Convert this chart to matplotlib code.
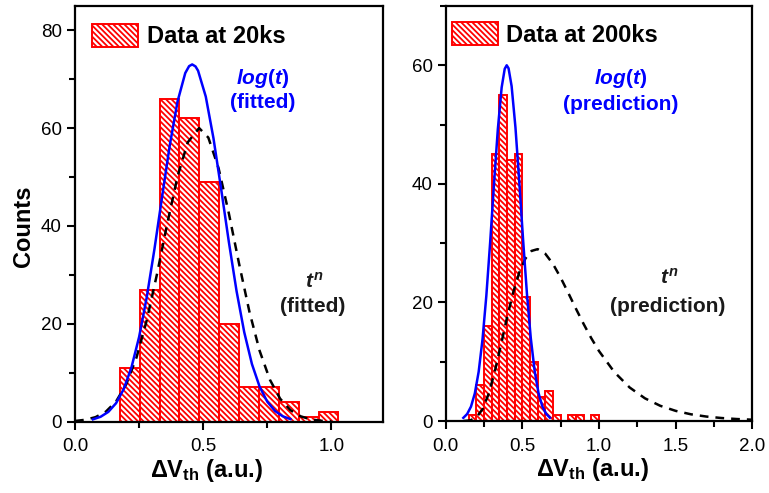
import numpy as np
import matplotlib
matplotlib.use("Agg")
import matplotlib.pyplot as plt
from matplotlib.ticker import MultipleLocator

plt.rcParams['font.family'] = ['Liberation Sans', 'DejaVu Sans']
plt.rcParams['mathtext.fontset'] = 'custom'
plt.rcParams['mathtext.rm'] = 'Liberation Sans:bold'
plt.rcParams['mathtext.bf'] = 'Liberation Sans:bold'
plt.rcParams['mathtext.it'] = 'Liberation Sans:bold:italic'
plt.rcParams['hatch.linewidth'] = 1.3

# ---- data at 20ks (left panel) ----
edges_20 = [0.175, 0.2525, 0.33, 0.4075, 0.485, 0.5625, 0.64, 0.7175, 0.795, 0.8725, 0.95, 1.0275]
counts_20 = [11, 27, 66, 62, 49, 20, 7, 7, 4, 1, 2]

# log(t) fit
log20_x = [0.07, 0.10, 0.13, 0.16, 0.19, 0.22, 0.25, 0.28, 0.31, 0.34, 0.37, 0.40, 0.43,
           0.445, 0.457, 0.47, 0.48, 0.51, 0.54, 0.57, 0.60, 0.63, 0.66, 0.69, 0.72,
           0.75, 0.78, 0.81, 0.84]
log20_y = [0.48, 1.01, 2.01, 3.77, 6.66, 11.06, 17.31, 25.48, 35.33, 46.09, 56.61, 65.45, 71.24,
           72.65, 73.0, 72.59, 71.71, 66.43, 57.92, 47.54, 36.73, 26.71, 18.29, 11.78, 7.15,
           4.08, 2.19, 1.11, 0.53]

# t^n fit
tn20_x = [0.00, 0.04, 0.08, 0.12, 0.16, 0.20, 0.24, 0.28, 0.32, 0.36, 0.40, 0.44, 0.484,
          0.52, 0.56, 0.60, 0.64, 0.68, 0.72, 0.76, 0.80, 0.84, 0.88, 0.92, 0.96, 1.00]
tn20_y = [0.15, 0.39, 0.93, 2.04, 4.12, 7.66, 13.14, 20.76, 30.21, 40.53, 50.12, 57.11, 60.0,
          58.05, 51.78, 42.56, 32.25, 22.52, 14.49, 8.59, 4.70, 2.37, 1.10, 0.47, 0.19, 0.07]

# ---- data at 200ks (right panel) ----
edges_200 = [0.15, 0.20, 0.25, 0.30, 0.35, 0.40, 0.45, 0.50, 0.55, 0.60, 0.65, 0.70,
             0.75, 0.80, 0.85, 0.90, 0.95, 1.00]
counts_200 = [1, 6, 16, 45, 55, 44, 45, 21, 10, 4, 5, 1, 0, 1, 1, 0, 1]

log200_x = [0.115, 0.14, 0.165, 0.19, 0.215, 0.24, 0.265, 0.29, 0.315, 0.34, 0.365, 0.385,
            0.398, 0.41, 0.43, 0.455, 0.48, 0.505, 0.53, 0.555, 0.58, 0.605, 0.63, 0.655, 0.68]
log200_y = [0.53, 1.18, 2.43, 4.66, 8.30, 13.73, 21.10, 30.13, 39.94, 49.19, 56.26, 59.40,
            60.0, 59.49, 56.48, 49.52, 40.33, 30.51, 21.44, 13.99, 8.48, 4.77, 2.50, 1.21, 0.55]

tn200_x = [0.12, 0.16, 0.20, 0.24, 0.28, 0.32, 0.36, 0.40, 0.44, 0.48, 0.52, 0.56, 0.60,
           0.65, 0.70, 0.75, 0.80, 0.85, 0.90, 0.95, 1.00, 1.10, 1.20, 1.30, 1.40, 1.50,
           1.60, 1.70, 1.80, 1.90, 2.00]
tn200_y = [0.01, 0.10, 0.60, 1.98, 4.56, 8.32, 12.80, 17.44, 21.66, 25.05, 27.41, 28.69, 28.99,
           28.20, 26.48, 24.17, 21.58, 18.92, 16.35, 13.95, 11.80, 8.25, 5.65, 3.82, 2.56, 1.71,
           1.13, 0.75, 0.50, 0.33, 0.22]

RED = '#ff0000'
BLUE = '#0000ff'
HATCH = '\\' * 6


def style_axis(ax, xmax, ymax, xmajor, ymajor):
    ax.set_xlim(0, xmax)
    ax.set_ylim(0, ymax)
    ax.xaxis.set_major_locator(MultipleLocator(xmajor))
    ax.xaxis.set_minor_locator(MultipleLocator(xmajor / 2))
    ax.yaxis.set_major_locator(MultipleLocator(ymajor))
    ax.yaxis.set_minor_locator(MultipleLocator(ymajor / 2))
    ax.xaxis.set_major_formatter(plt.FuncFormatter(lambda v, p: '%.1f' % v))
    ax.tick_params(which='both', direction='out', width=1.5, labelsize=13.5)
    ax.tick_params(axis='x', pad=6)
    ax.tick_params(which='major', length=6)
    ax.tick_params(which='minor', length=4)
    for s in ax.spines.values():
        s.set_linewidth(1.6)


def draw_panel(ax, edges, counts, lx, ly, tx, ty, label):
    edges = np.array(edges)
    ax.bar(edges[:-1], counts, width=np.diff(edges), align='edge',
           facecolor='white', edgecolor=RED, hatch=HATCH, linewidth=1.4,
           label=label, zorder=2)
    ax.plot(lx, ly, color=BLUE, lw=1.8, zorder=4)
    ax.plot(tx, ty, color='black', lw=1.8, dashes=(3.5, 2.8), zorder=3)


fig = plt.figure(figsize=(7.69, 4.93), dpi=100)
ax1 = fig.add_axes([75 / 769, 1 - 421.7 / 493, 307.7 / 769, 416 / 493])
ax2 = fig.add_axes([445.7 / 769, 1 - 421.0 / 493, 306.6 / 769, 415 / 493])

draw_panel(ax1, edges_20, counts_20, log20_x, log20_y, tn20_x, tn20_y, 'Data at 20ks')
draw_panel(ax2, edges_200, counts_200, log200_x, log200_y, tn200_x, tn200_y, 'Data at 200ks')

style_axis(ax1, 1.2, 85, 0.5, 20)
style_axis(ax2, 2.0, 70, 0.5, 20)

for ax, bx, by in [(ax1, 0.01, 0.99), (ax2, -0.027, 0.995)]:
    ax.legend(loc='upper left', bbox_to_anchor=(bx, by), frameon=False,
              prop={'weight': 'bold', 'size': 17}, handlelength=1.95, handleheight=1.1,
              handletextpad=0.35, borderaxespad=0.2)

ax1.set_ylabel('Counts', fontsize=17, fontweight='bold')
ax1.yaxis.set_label_coords(-0.13, 0.47)
for ax, cx in [(ax1, 0.426), (ax2, 0.48)]:
    ax.set_xlabel(r'$\Delta$V$_{\mathbf{th}}$ (a.u.)', fontsize=17, fontweight='bold')
    ax.xaxis.set_label_coords(cx, -0.085)

# annotations, positions in pixels from the top-left corner
notes = [
    (263, 79, r'$\mathit{log}$($\mathit{t}$)', BLUE),
    (263, 103, '(fitted)', BLUE),
    (314, 282, r'$\mathit{t}^{\mathit{n}}$', '#1a1a1a'),
    (313, 306, '(fitted)', '#1a1a1a'),
    (621, 79, r'$\mathit{log}$($\mathit{t}$)', BLUE),
    (621, 105, '(prediction)', BLUE),
    (669, 278, r'$\mathit{t}^{\mathit{n}}$', '#1a1a1a'),
    (668, 306, '(prediction)', '#1a1a1a'),
]
for x, y, s, c in notes:
    fig.text(x / 769, 1 - y / 493, s, fontsize=15, fontweight='bold', color=c,
             ha='center', va='center')

fig.savefig('out.png', dpi=100)
